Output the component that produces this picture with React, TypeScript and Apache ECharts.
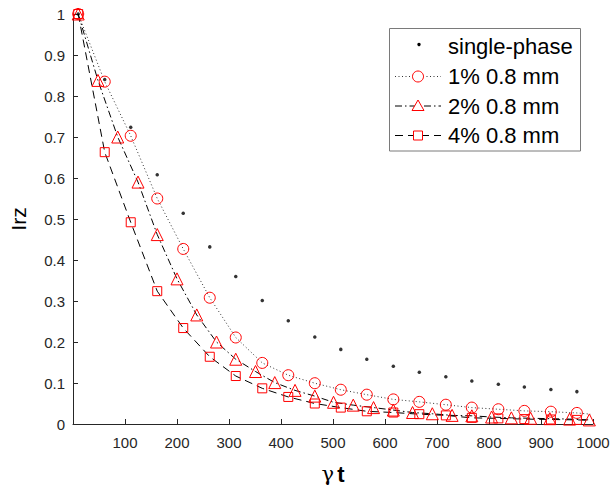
import React, { useEffect, useRef } from "react";
import * as echarts from "echarts";

// x positions (γ t) of the single-phase, 1% and 4% markers
const xDots = [10, 61, 111, 162, 212, 263, 313, 364, 414, 465, 515, 565, 616, 666, 717, 767, 818, 868, 919, 969];
const singlePhase = [1.0, 0.84, 0.724, 0.608, 0.514, 0.432, 0.36, 0.301, 0.252, 0.212, 0.182, 0.158, 0.141, 0.126, 0.115, 0.105, 0.097, 0.09, 0.084, 0.079];
const onePct = [1.0, 0.835, 0.703, 0.55, 0.427, 0.308, 0.211, 0.149, 0.119, 0.0995, 0.0836, 0.0715, 0.06, 0.054, 0.047, 0.04, 0.036, 0.032, 0.03, 0.027];
const onePctEnd = [995, 0.024];
// x positions of the 2% markers
const xTri = [10, 48, 86, 125, 162, 200, 238, 276, 313, 351, 388, 427, 465, 501, 539, 578, 616, 653, 691, 729, 767, 805, 843, 880, 917, 955, 993];
const twoPct = [1.0, 0.838, 0.7, 0.59, 0.462, 0.354, 0.266, 0.2, 0.158, 0.128, 0.101, 0.082, 0.068, 0.053, 0.046, 0.04, 0.034, 0.028, 0.025, 0.021, 0.02, 0.017, 0.015, 0.014, 0.013, 0.012, 0.01];
const fourPct = [1.0, 0.663, 0.492, 0.324, 0.234, 0.164, 0.117, 0.087, 0.066, 0.05, 0.04, 0.031, 0.028, 0.024, 0.021, 0.015, 0.0137, 0.012, 0.011, 0.01];
const fourPctEnd = [995, 0.009];

const legendNames = ["single-phase", "1% 0.8 mm", "2% 0.8 mm", "4% 0.8 mm"];

const FONT = "'Liberation Sans', Arial, Helvetica, sans-serif";
const RED = "#ff0000";

function pairs(xs: number[], ys: number[]) {
  return xs.map((x, i) => [x, ys[i]]);
}

export default function App() {
  const ref = useRef<HTMLDivElement>(null);
  useEffect(() => {
    if (!ref.current) return;
    const chart = echarts.init(ref.current, null, { renderer: "svg" });

    const lx0 = 395, lx1 = 441, lmx = 418, ltx = 448;
    const rows = [46.5, 76.5, 106, 135.5];
    const legendGraphics: any[] = [
      {
        type: "rect",
        shape: { x: 389.5, y: 28.5, width: 191, height: 122.5 },
        style: { fill: "#fff", stroke: "#7a7a7a", lineWidth: 1 },
        z: 10,
      },
      { type: "circle", shape: { cx: lmx + 1, cy: rows[0] - 2, r: 1.7 }, style: { fill: "#000" }, z: 11 },
      { type: "line", shape: { x1: lx0, y1: rows[1], x2: lx1, y2: rows[1] }, style: { stroke: "#333", lineWidth: 1, lineDash: [1, 2.5] }, z: 11 },
      { type: "circle", shape: { cx: lmx, cy: rows[1], r: 5.5 }, style: { fill: "#fff", stroke: RED, lineWidth: 1 }, z: 12 },
      { type: "line", shape: { x1: lx0, y1: rows[2], x2: lx1, y2: rows[2] }, style: { stroke: "#000", lineWidth: 1, lineDash: [7, 3, 1.5, 3] }, z: 11 },
      { type: "polygon", shape: { points: [[lmx, rows[2] - 6], [lmx + 6, rows[2] + 4.5], [lmx - 6, rows[2] + 4.5]] }, style: { fill: "#fff", stroke: RED, lineWidth: 1 }, z: 12 },
      { type: "line", shape: { x1: lx0, y1: rows[3], x2: lx1, y2: rows[3] }, style: { stroke: "#000", lineWidth: 1, lineDash: [8, 5] }, z: 11 },
      { type: "rect", shape: { x: lmx - 4.5, y: rows[3] - 4.5, width: 9, height: 9 }, style: { fill: "#fff", stroke: RED, lineWidth: 1 }, z: 12 },
    ];
    legendNames.forEach((n, i) => {
      legendGraphics.push({
        type: "text",
        x: ltx,
        y: rows[i],
        style: { text: n, fontSize: 22, fontFamily: FONT, fill: "#000", verticalAlign: "middle", align: "left" },
        z: 12,
      });
    });

    const axisCommon = {
      axisLine: { show: true, onZero: false, lineStyle: { color: "#262626", width: 1 } },
      axisTick: { show: true, inside: true, length: 5, lineStyle: { color: "#262626" } },
      splitLine: { show: false },
      axisLabel: { color: "#262626", fontSize: 15, fontFamily: FONT },
    };

    chart.setOption({
      animation: false,
      backgroundColor: "#fff",
      grid: { left: 65.6, right: 20, top: 14, bottom: 61, containLabel: false },
      xAxis: {
        type: "value",
        min: 0,
        max: 1000,
        interval: 100,
        ...axisCommon,
        axisLabel: {
          ...axisCommon.axisLabel,
          margin: 11,
          formatter: (v: number) => (v === 0 ? "" : String(v)),
        },
        name: "{g|γ} {t|t}",
        nameLocation: "middle",
        nameGap: 39,
        nameTextStyle: {
          rich: {
            g: { fontFamily: "'DejaVu Serif', 'Liberation Serif', serif", fontSize: 21, color: "#000" },
            t: { fontFamily: FONT, fontSize: 22, fontWeight: "bold", color: "#000" },
          },
        },
      },
      yAxis: {
        type: "value",
        min: 0,
        max: 1,
        interval: 0.1,
        ...axisCommon,
        axisLabel: { ...axisCommon.axisLabel, margin: 8 },
        name: "Irz",
        nameLocation: "middle",
        nameGap: 44,
        nameTextStyle: { fontFamily: FONT, fontSize: 21, color: "#000" },
      },
      series: [
        {
          name: legendNames[0],
          type: "scatter",
          data: pairs(xDots, singlePhase),
          symbol: "circle",
          symbolSize: 3.5,
          itemStyle: { color: "#000" },
          z: 2,
        },
        {
          name: legendNames[1],
          type: "line",
          data: [...pairs(xDots, onePct), { value: onePctEnd, symbol: "none" }],
          symbol: "circle",
          symbolSize: 11,
          showAllSymbol: true,
          itemStyle: { color: "rgba(0,0,0,0)", borderColor: RED, borderWidth: 1 },
          lineStyle: { color: "#333", width: 1, type: [1, 2.5] },
          z: 3,
        },
        {
          name: legendNames[2],
          type: "line",
          data: pairs(xTri, twoPct),
          symbol: "triangle",
          symbolSize: 12,
          showAllSymbol: true,
          itemStyle: { color: "rgba(0,0,0,0)", borderColor: RED, borderWidth: 1 },
          lineStyle: { color: "#000", width: 1, type: [7, 3, 1.5, 3] },
          z: 3,
        },
        {
          name: legendNames[3],
          type: "line",
          data: [...pairs(xDots, fourPct), { value: fourPctEnd, symbol: "none" }],
          symbol: "rect",
          symbolSize: 9,
          showAllSymbol: true,
          itemStyle: { color: "rgba(0,0,0,0)", borderColor: RED, borderWidth: 1 },
          lineStyle: { color: "#000", width: 1, type: [8, 5] },
          z: 3,
        },
      ],
      graphic: legendGraphics,
    });
    return () => chart.dispose();
  }, []);
  return (
    <div
      ref={ref}
      style={{ position: "absolute", left: 0, top: 0, width: 613, height: 490, background: "#fff" }}
    />
  );
}
